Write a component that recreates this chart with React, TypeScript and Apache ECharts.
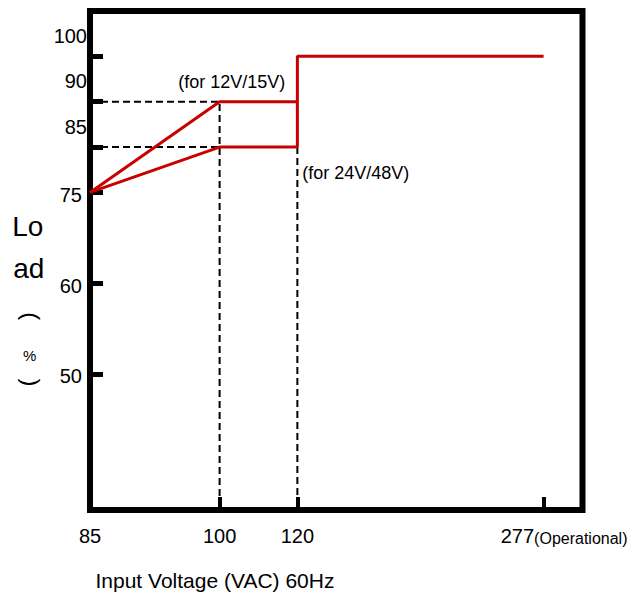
import React, { useEffect, useRef } from "react";
import * as echarts from "echarts";

// ---- tick labels ----
const voltageTicks = ["85", "100", "120", "277"];
const loadTicks = ["50", "60", "75", "85", "90", "100"];
const operationalNote = "(Operational)";

// ---- derating curves ----
// 12V/15V
const curveAVoltage = ["85", "100", "120"];
const curveALoad = ["75", "90", "90"];
// 24V/48V
const curveBVoltage = ["85", "100", "120", "120", "277"];
const curveBLoad = ["75", "85", "85", "100", "100"];

// ---- dashed guides (0 = axis floor) ----
const guide90Voltage = ["85", "100", "100"];
const guide90Load: (string | number)[] = ["90", "90", 0];
const guide85Voltage = ["85", "100"];
const guide85Load = ["85", "85"];
const guide120Voltage = ["120", "120"];
const guide120Load: (string | number)[] = ["85", 0];

// ---- texts ----
const xTitle = "Input Voltage (VAC) 60Hz";
const yTitleA = "Lo";
const yTitleB = "ad";
const noteA = "(for 12V/15V)";
const noteB = "(for 24V/48V)";

// ---- non-uniform axis layout (slot index of each tick) ----
const voltageSlots = [0, 10, 16, 35];
const voltageSlotCount = 39;
const loadSlots = [3, 5, 7, 8, 9, 10];
const loadSlotCount = 12;
const raisedLoadLabels = ["85", "90", "100"];

const FONT = "Liberation Sans";
const RED = "#C80000";

function zip(a: (string | number)[], b: (string | number)[]) {
  return a.map((v, i) => [v, b[i]]);
}

export default function App() {
  const ref = useRef<HTMLDivElement>(null);
  useEffect(() => {
    if (!ref.current) return;
    const chart = echarts.init(ref.current, null, { renderer: "svg" });

    const xCats: string[] = Array.from({ length: voltageSlotCount }, () => "");
    voltageTicks.forEach((t, i) => (xCats[voltageSlots[i]] = t));
    const yCats: string[] = Array.from({ length: loadSlotCount }, () => "");
    loadTicks.forEach((t, i) => (yCats[loadSlots[i]] = t));

    const dashed = {
      color: "#000",
      width: 2,
      type: [7, 4] as any,
    };

    chart.setOption({
      animation: false,
      textStyle: { fontFamily: FONT },
      grid: {
        left: 90,
        top: 11,
        width: 492.5,
        height: 499,
        show: true,
        borderColor: "#000",
        borderWidth: 6,
        backgroundColor: "transparent",
      },
      xAxis: {
        type: "category",
        data: xCats,
        boundaryGap: false,
        axisLine: { show: false },
        splitLine: { show: false },
        axisTick: {
          show: true,
          inside: true,
          length: 13,
          lineStyle: { color: "#000", width: 4 },
          interval: (_i: number, v: string) => v !== "",
        },
        axisLabel: {
          interval: (_i: number, v: string) => v !== "",
          margin: 16,
          fontSize: 20,
          color: "#000",
          fontFamily: FONT,
          formatter: (v: string) =>
            v === voltageTicks[voltageTicks.length - 1]
              ? `{a|${v}}{b|${operationalNote}}`
              : v,
          rich: {
            a: { fontSize: 20, fontFamily: FONT, color: "#000", padding: [0, 0, 0, 41] },
            b: { fontSize: 16, fontFamily: FONT, color: "#000", verticalAlign: "bottom" },
          },
        },
      },
      yAxis: {
        type: "category",
        data: yCats,
        boundaryGap: false,
        axisLine: { show: false },
        splitLine: { show: false },
        axisTick: {
          show: true,
          inside: true,
          length: 13,
          lineStyle: { color: "#000", width: 5 },
          interval: (_i: number, v: string) => v !== "",
        },
        axisLabel: {
          interval: (_i: number, v: string) => v !== "",
          margin: 3,
          fontSize: 20,
          color: "#000",
          fontFamily: FONT,
          formatter: (v: string) =>
            raisedLoadLabels.includes(v) ? `{up|${v}}` : `{lo|${v}}`,
          rich: {
            up: { fontSize: 20, fontFamily: FONT, color: "#000", padding: [0, 0, 41, 0] },
            lo: { fontSize: 20, fontFamily: FONT, color: "#000", padding: [5, 5, 0, 0] },
          },
        },
      },
      series: [
        {
          type: "line",
          data: zip(guide90Voltage, guide90Load),
          symbol: "none",
          lineStyle: dashed,
          z: 2,
        },
        {
          type: "line",
          data: zip(guide85Voltage, guide85Load),
          symbol: "none",
          lineStyle: dashed,
          z: 2,
        },
        {
          type: "line",
          data: zip(guide120Voltage, guide120Load),
          symbol: "none",
          lineStyle: dashed,
          z: 2,
        },
        {
          type: "line",
          data: zip(curveAVoltage, curveALoad),
          symbol: "none",
          lineStyle: { color: RED, width: 3 },
          z: 3,
        },
        {
          type: "line",
          data: zip(curveBVoltage, curveBLoad),
          symbol: "none",
          lineStyle: { color: RED, width: 3 },
          z: 3,
        },
      ],
      graphic: [
        {
          type: "text",
          x: 95.5,
          y: 580.7,
          style: { text: xTitle, fontSize: 21, fontFamily: FONT, fill: "#000", textVerticalAlign: "middle", verticalAlign: "middle" },
        },
        {
          type: "text",
          x: 178.2,
          y: 81.7,
          style: { text: noteA, fontSize: 18, fontFamily: FONT, fill: "#000", verticalAlign: "middle" },
        },
        {
          type: "text",
          x: 302.2,
          y: 172.7,
          style: { text: noteB, fontSize: 18, fontFamily: FONT, fill: "#000", verticalAlign: "middle" },
        },
        {
          type: "text",
          x: 12.3,
          y: 226.3,
          style: { text: yTitleA, fontSize: 28, fontFamily: FONT, fill: "#000", verticalAlign: "middle" },
        },
        {
          type: "text",
          x: 13.2,
          y: 268.6,
          style: { text: yTitleB, fontSize: 28, fontFamily: FONT, fill: "#000", verticalAlign: "middle" },
        },
        {
          type: "text",
          x: 31.3,
          y: 316.2,
          rotation: -Math.PI / 2,
          style: { text: "(", fontSize: 24, fontFamily: FONT, fill: "#000", align: "center", verticalAlign: "middle" },
        },
        {
          type: "text",
          x: 29.7,
          y: 355.5,
          style: { text: "%", fontSize: 15, fontFamily: FONT, fill: "#000", align: "center", verticalAlign: "middle" },
        },
        {
          type: "text",
          x: 31.3,
          y: 382.6,
          rotation: -Math.PI / 2,
          style: { text: ")", fontSize: 24, fontFamily: FONT, fill: "#000", align: "center", verticalAlign: "middle" },
        },
      ],
    });
    return () => chart.dispose();
  }, []);
  return (
    <div
      ref={ref}
      style={{ position: "absolute", left: 0, top: 0, width: 640, height: 594 }}
    />
  );
}
